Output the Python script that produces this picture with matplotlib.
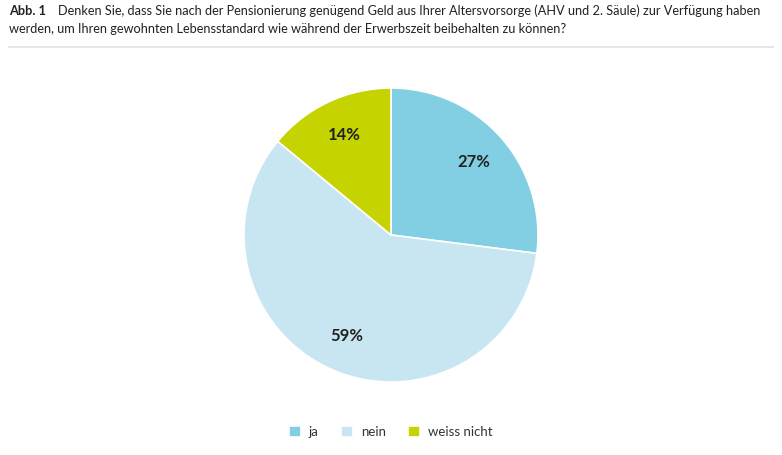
import matplotlib
matplotlib.use("Agg")
import matplotlib.pyplot as plt
from matplotlib.lines import Line2D

labels = ["ja", "nein", "weiss nicht"]
values = [27, 59, 14]
colors = ["#82cfe3", "#c8e6f1", "#c5d300"]

plt.rcParams['font.family'] = ['Lato', 'DejaVu Sans']

fig = plt.figure(figsize=(7.82, 4.55), dpi=100)

# title
fig.text(9 / 782, 1 - 11 / 455, "Abb. 1", fontsize=9.2, fontweight='bold', va='center', color='#222222')
fig.text(58 / 782, 1 - 11 / 455,
         "Denken Sie, dass Sie nach der Pensionierung genügend Geld aus Ihrer Altersvorsorge (AHV und 2. Säule) zur Verfügung haben",
         fontsize=9.2, va='center', color='#222222')
fig.text(9 / 782, 1 - 29 / 455,
         "werden, um Ihren gewohnten Lebensstandard wie während der Erwerbszeit beibehalten zu können?",
         fontsize=9.2, va='center', color='#222222')
fig.add_artist(Line2D([9 / 782, 773 / 782], [1 - 47 / 455, 1 - 47 / 455],
                      color='#e6e6e6', lw=1.5, transform=fig.transFigure))

# pie
cx, cy, r = 391, 235, 147
box = 150
ax = fig.add_axes([(cx - box) / 782, (455 - cy - box) / 455, 2 * box / 782, 2 * box / 455])
wedges, texts, autotexts = ax.pie(values, colors=colors, startangle=90, counterclock=False,
                                  autopct=lambda p: f"{p:.0f}%", pctdistance=0.75,
                                  wedgeprops=dict(edgecolor='white', linewidth=1.2),
                                  textprops=dict(fontsize=12, fontweight='bold', color='#222222'))
ax.set_xlim(-box / r, box / r)
ax.set_ylim(-box / r, box / r)
ax.set_aspect('equal')
ax.axis('off')

fig.legend(wedges, labels, loc='center', bbox_to_anchor=(391 / 782, 1 - 432 / 455), ncol=3,
           frameon=False, fontsize=9.5, handlelength=0.9, handleheight=0.9,
           columnspacing=1.7, handletextpad=0.6, labelcolor='#333333')

fig.savefig("out.png", dpi=100)
